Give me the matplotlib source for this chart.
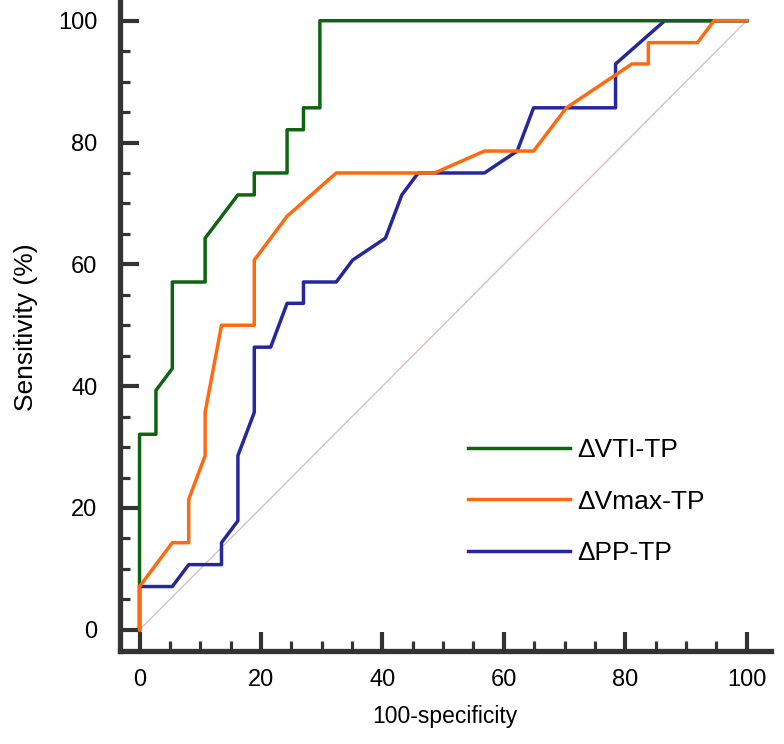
import matplotlib
matplotlib.use('Agg')
import matplotlib.pyplot as plt
from matplotlib.ticker import MultipleLocator

plt.rcParams['font.family'] = ['Liberation Sans', 'DejaVu Sans']

# ROC curve points (100-specificity, sensitivity)
vti_x = [0, 0, 0, 2.7, 2.7, 5.4, 5.4, 10.8, 10.8, 16.2, 18.9, 18.9, 24.3, 24.3,
         27.0, 27.0, 29.7, 29.7, 100]
vti_y = [0, 7.1, 32.1, 32.1, 39.3, 42.9, 57.1, 57.1, 64.3, 71.4, 71.4, 75.0, 75.0, 82.1,
         82.1, 85.7, 85.7, 100, 100]

vmax_x = [0, 0, 5.4, 8.1, 8.1, 10.8, 10.8, 13.5, 18.9, 18.9, 24.3, 32.4, 48.6, 56.8,
          64.9, 70.3, 81.1, 83.8, 83.8, 91.9, 94.6, 100]
vmax_y = [0, 7.1, 14.3, 14.3, 21.4, 28.6, 35.7, 50.0, 50.0, 60.7, 67.9, 75.0, 75.0, 78.6,
          78.6, 85.7, 92.9, 92.9, 96.4, 96.4, 100, 100]

pp_x = [0, 0, 5.4, 8.1, 13.5, 13.5, 16.2, 16.2, 18.9, 18.9, 21.6, 24.3, 27.0, 27.0,
        32.4, 35.1, 40.5, 43.2, 45.9, 56.8, 62.2, 64.9, 78.4, 78.4, 86.5, 100]
pp_y = [0, 7.1, 7.1, 10.7, 10.7, 14.3, 17.9, 28.6, 35.7, 46.4, 46.4, 53.6, 53.6, 57.1,
        57.1, 60.7, 64.3, 71.4, 75.0, 75.0, 78.6, 85.7, 85.7, 92.9, 100, 100]

labels = ['\u0394VTI-TP', '\u0394Vmax-TP', '\u0394PP-TP']
colors = ['#0f6414', '#ff6a10', '#26279a']

fig = plt.figure(figsize=(7.84, 7.44), dpi=100)
ax = fig.add_axes([119.5 / 784, (744 - 650.5) / 744, 651.5 / 784, 650.5 / 744])

ax.plot([0, 100], [0, 100], color='#d8b9bd', lw=0.9, zorder=1)
ax.plot(pp_x, pp_y, color=colors[2], lw=2.5, label=labels[2], zorder=2)
ax.plot(vti_x, vti_y, color=colors[0], lw=2.5, label=labels[0], zorder=3)
ax.plot(vmax_x, vmax_y, color=colors[1], lw=2.5, label=labels[1], zorder=4)

ax.set_xlim(-3.3, 104)
ax.set_ylim(-3.4, 103.4)

for side in ['top', 'right']:
    ax.spines[side].set_visible(False)
for side in ['left', 'bottom']:
    ax.spines[side].set_linewidth(3.8)
    ax.spines[side].set_color('#333333')

ax.xaxis.set_major_locator(MultipleLocator(20))
ax.xaxis.set_minor_locator(MultipleLocator(5))
ax.yaxis.set_major_locator(MultipleLocator(20))
ax.yaxis.set_minor_locator(MultipleLocator(5))
ax.tick_params(which='major', direction='in', length=14, width=3, color='#333333',
               labelsize=17)
ax.tick_params(which='minor', direction='in', length=7.5, width=2.3, color='#333333')
ax.tick_params(axis='y', which='major', pad=16)
ax.tick_params(axis='x', which='major', pad=13)

ax.set_xlabel('100-specificity', fontsize=16.5)
ax.set_ylabel('Sensitivity (%)', fontsize=19)
ax.xaxis.set_label_coords(0.5, -0.084)
ax.yaxis.set_label_coords(-0.125, 0.497)

handles, labs = ax.get_legend_handles_labels()
order = [labs.index(l) for l in labels]
ax.legend([handles[i] for i in order], [labs[i] for i in order],
          loc='upper left', bbox_to_anchor=((468 - 119.5) / 651.5, (650.5 - 438) / 650.5),
          frameon=False, fontsize=19, handlelength=3.85, handletextpad=0.3,
          labelspacing=1.05, borderpad=0, borderaxespad=0)

fig.savefig('out.png', dpi=100)
